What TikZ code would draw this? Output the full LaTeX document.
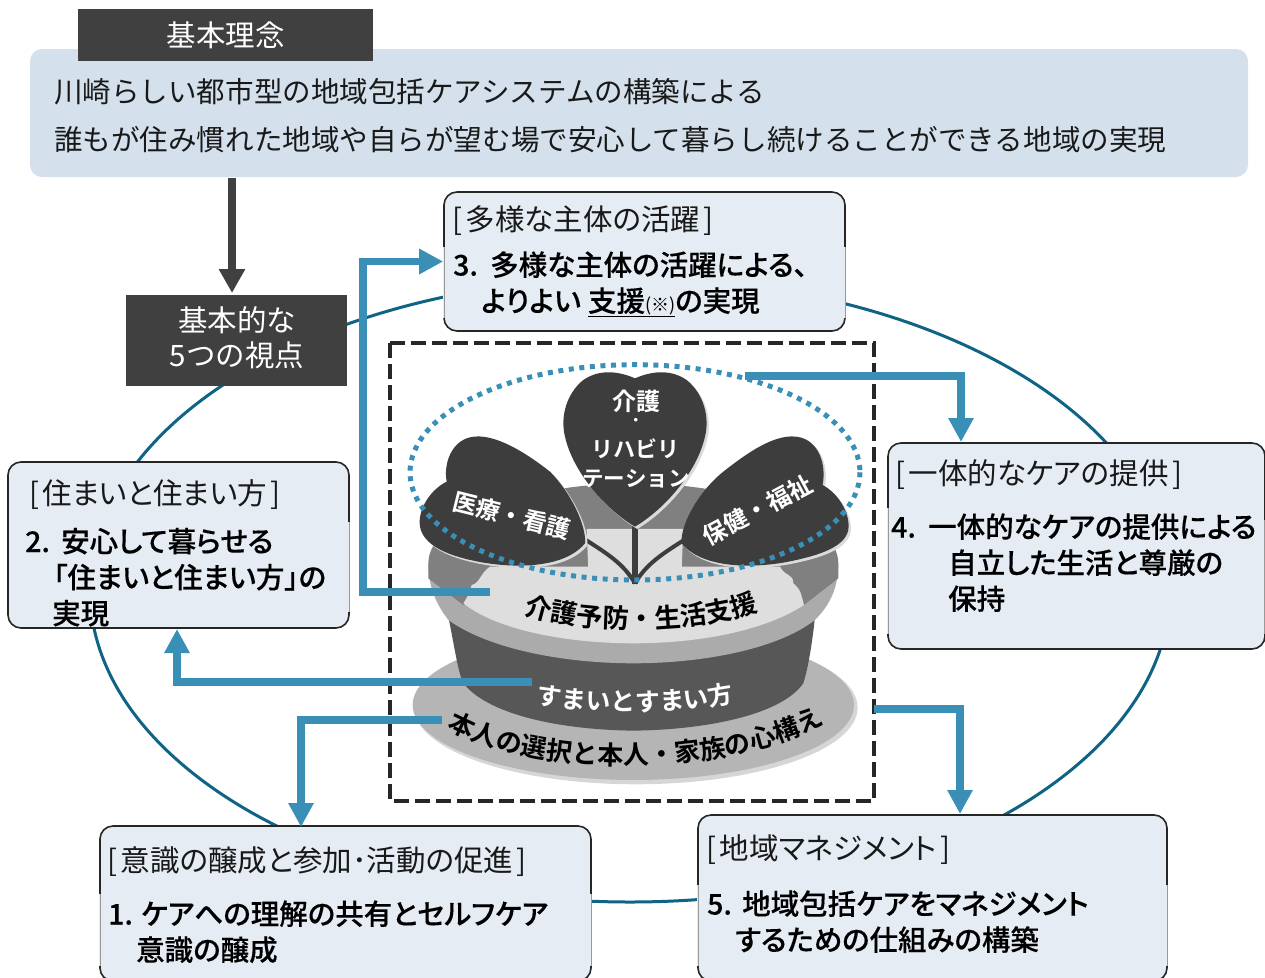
\documentclass[tikz,border=0pt]{standalone}
\usepackage{fontspec}
\setmainfont{Noto Sans CJK JP}[BoldFont={Noto Sans CJK JP Bold}]
\newfontfamily\proplight{Noto Sans CJK JP}[RawFeature=+palt]
\newfontfamily\propbold{Noto Sans CJK JP Medium}[RawFeature=+palt,FakeBold=0.25]
\usetikzlibrary{arrows.meta,decorations.text}
\definecolor{barfill}{HTML}{D4E1EC}
\definecolor{boxfill}{HTML}{E5ECF4}
\definecolor{darkhead}{HTML}{404040}
\definecolor{arrowblue}{HTML}{3A8FB7}
\definecolor{ringteal}{HTML}{0F6384}
\newcommand{\fs}[1]{\fontsize{#1pt}{#1pt}\selectfont}
\newcommand{\lb}{[\kern3.5pt}
\newcommand{\rb}{\kern3.5pt]}
\newcommand{\numw}[2]{\makebox[#1pt][l]{#2}}
\tikzset{
  x=1pt,y=-1pt,
  headbox/.style={fill=darkhead,text=white,inner sep=0,align=center},
  casebox/.style={draw=black!85,line width=1.6pt,fill=boxfill,rounded corners=13pt,inner sep=0},
  thin label/.style={anchor=base west,inner sep=0,text=black!90,font=\fs{29.5}\proplight},
  bold label/.style={anchor=base west,inner sep=0,text=black,font=\fs{28.5}\propbold},
  blue arrow/.style={draw=arrowblue,line width=7.5pt,-{Triangle[width=24pt,length=24pt]}},
  plant label/.style={text=white,font=\fs{22}\bfseries,inner sep=0},
  leaf/.style={fill=black!76},
  leafshade/.style={fill=black!14,shift={(7,7)}},
}
\newcommand{\sizedbox}[5]{\node[#1,minimum width=#4-#2,minimum height=#5-#3] at ({(#2+#4)/2},{(#3+#5)/2})}
\newcommand{\softedge}[3]{\draw[boxfill,line width=2.4pt] (#1,#2) -- (#1,#3); \draw[black!40,line width=.7pt] (#1,#2) -- (#1,#3);}
\def\leafmid{(765,145) .. controls (720,125) and (660,115) .. (610,150) .. controls (560,190) and (540,260) .. (555,320) .. controls (580,430) and (680,540) .. (765,590) .. controls (850,540) and (950,430) .. (975,320) .. controls (990,260) and (970,190) .. (920,150) .. controls (870,115) and (810,125) .. (765,145) -- cycle}
\def\leafleft{(615,640) .. controls (620,590) and (575,490) .. (510,425) .. controls (440,370) and (340,305) .. (270,322) .. controls (215,335) and (190,400) .. (200,455) .. controls (150,480) and (112,540) .. (120,590) .. controls (130,645) and (200,675) .. (280,692) .. controls (370,712) and (545,725) .. (615,640) -- cycle}
\def\leafright{(905,640) .. controls (900,590) and (950,490) .. (1030,425) .. controls (1100,370) and (1190,305) .. (1260,322) .. controls (1315,335) and (1340,400) .. (1328,465) .. controls (1375,490) and (1412,550) .. (1405,600) .. controls (1395,650) and (1320,675) .. (1240,692) .. controls (1150,712) and (975,725) .. (905,640) -- cycle}
\begin{document}
\begin{tikzpicture}
\useasboundingbox (0,0) rectangle (1265,977);
\clip (0,0) rectangle (1265,977);
% ring
\draw[ringteal,line width=3pt] (630,590) ellipse [x radius=540,y radius=312];
% top band
\node[fill=barfill,rounded corners=12pt,minimum width=1218pt,minimum height=128pt,inner sep=0] (band) at (639,113) {};
\node[headbox,minimum width=295pt,minimum height=52pt,font=\fs{29.5}] (head) at (225.5,35) {基本理念};
\node[anchor=base west,inner sep=0,text=black!90,font=\fs{28.55}] (band1) at (54,102.5) {川崎らしい都市型の地域包括ケアシステムの構築による};
\node[anchor=base west,inner sep=0,text=black!90,font=\fs{28.55}] (band2) at (54,150.5) {誰もが住み慣れた地域や自らが望む場で安心して暮らし続けることができる地域の実現};
\node[headbox,minimum width=221pt,minimum height=91pt] (views) at (236.5,340.5) {};
\node[text=white,inner sep=0,font=\fs{29.5}] (views1) at (237,320) {基本的な};
\node[text=white,inner sep=0,font=\fs{29.5}] (views2) at (237,355) {5つの視点};
\coordinate (bandout) at (232,178);
\draw[draw=darkhead,line width=8pt,-{Triangle[width=25pt,length=24pt]}] (bandout) -- (232,293);
% dashed frame
\draw[black!85,line width=4.5pt,dash pattern=on 15pt off 6pt] (390,343) rectangle (874,801);
% plant graphic, in 3x crop coordinates
\begin{scope}[xshift=380pt,yshift=-330pt,x=0.3333pt,y=-0.3333pt]
  \fill[black!16] (768,1133) ellipse [x radius=665,y radius=230];
  \fill[black!29] (760,1125) ellipse [x radius=662,y radius=225];
  \fill[black!66] (205,860) .. controls (225,960) and (235,1030) .. (250,1060) .. controls (330,1160) and (560,1200) .. (760,1202) .. controls (960,1200) and (1200,1160) .. (1270,1060) .. controls (1280,1030) and (1295,960) .. (1305,860) -- cycle;
  \fill[black!33] (145,700) .. controls (145,780) and (175,830) .. (205,870) .. controls (330,960) and (560,1000) .. (760,1000) .. controls (960,1000) and (1190,960) .. (1305,870) .. controls (1345,830) and (1375,780) .. (1375,700) -- cycle;
  \fill[black!50] (145,700) .. controls (145,560) and (450,460) .. (760,460) .. controls (1070,460) and (1375,560) .. (1375,700) -- (1375,745) -- (1272,825) -- (250,825) -- (145,745) -- cycle;
  \fill[black!13] (330,710) -- (1200,710) .. controls (1215,740) and (1240,730) .. (1240,760) .. controls (1265,780) and (1265,800) .. (1272,825) .. controls (1150,905) and (950,940) .. (760,940) .. controls (560,940) and (350,900) .. (250,820) .. controls (270,790) and (270,780) .. (275,765) .. controls (300,760) and (300,730) .. (330,710) -- cycle;
  \fill[black!13] (620,597) -- (910,597) -- (905,720) -- (625,720) -- cycle;
  % stems
  \draw[black!76,line width=4pt] (765,760) .. controls (730,700) and (680,670) .. (610,625);
  \draw[black!76,line width=4pt] (765,760) .. controls (800,700) and (850,670) .. (920,625);
  \draw[black!76,line width=6pt] (765,762) -- (765,570);
  % leaves
  \fill[leafshade] \leafmid;
  \fill[leafshade] \leafleft;
  \fill[leafshade] \leafright;
  \fill[leaf] \leafmid;
  \fill[leaf] \leafleft;
  \fill[leaf] \leafright;
  \node[plant label,font=\fs{24}\bfseries] (kaigo) at (770,215) {介護};
  \node[plant label,font=\fs{14}\bfseries] (kaigodot) at (768,276) {・};
  \node[plant label] (riha) at (768,357) {リハビリ};
  \node[plant label,font=\fs{21.5}\bfseries] (tei) at (768,445) {テーション};
  \node[plant label,rotate=-14,font=\fs{24}\bfseries] (iryo) at (395,557) {医療・看護};
  \node[plant label,rotate=28,font=\fs{24}\bfseries] (hoken) at (1132,540) {保健・福祉};
  \path[decorate,decoration={text along path,text align=center,text={|\fs{26.5}\bfseries|介護予防・生活支援}}] (415,845) .. controls (600,915) and (950,915) .. (1155,835);
  \path[decorate,decoration={text along path,text align=center,text color=white,text={|\fs{25}\bfseries\color{white}|すまいとすまい方}}] (470,1120) .. controls (640,1152) and (880,1152) .. (1060,1117);
  \path[decorate,decoration={text along path,text align=center,text={|\fs{26}\bfseries|本人の選択と本人・家族の心構え}}] (190,1190) .. controls (450,1345) and (1050,1345) .. (1345,1175);
  % dotted ring
  \draw[arrowblue,line width=5pt,dash pattern=on 5pt off 5.6pt] (765,427) ellipse [x radius=675,y radius=323];
\end{scope}
% boxes
\sizedbox{casebox}{444}{192}{845}{331} (b3) {};
\sizedbox{casebox}{888}{443}{1265}{649} (b4) {};
\sizedbox{casebox}{8}{462}{349}{628} (b2) {};
\sizedbox{casebox}{100}{826}{591}{981} (b1) {};
\sizedbox{casebox}{698}{815}{1167}{981} (b5) {};
\softedge{444}{247}{318}
\softedge{845}{247}{318}
\softedge{888}{508}{634}
\softedge{1264}{520}{634}
\softedge{349}{522}{612}
\softedge{100}{894}{966}
\softedge{591}{894}{966}
\softedge{698}{885}{966}
\softedge{1167}{885}{966}
% box text
\node[thin label] (t3a) at (452,230) {\lb 多様な主体の活躍\rb};
\node[bold label] (t3b) at (453,275.5) {\numw{37}{3.}多様な主体の活躍による、};
\node[bold label] (t3c) at (481,311.5) {よりよい\kern7pt\underline{支援{\fs{18}\proplight (※)}}の実現};
\node[thin label] (t2a) at (29,504) {\lb 住まいと住まい方\rb};
\node[bold label] (t2b) at (25,552) {\numw{36}{2.}安心して暮らせる};
\node[bold label] (t2c) at (53,588) {「住まいと住まい方」の};
\node[bold label] (t2d) at (52,624) {実現};
\node[thin label] (t4a) at (895,484) {\lb 一体的なケアの提供\rb};
\node[bold label] (t4b) at (891,537.5) {\numw{37}{4.}一体的なケアの提供による};
\node[bold label] (t4c) at (948,573.5) {自立した生活と尊厳の};
\node[bold label] (t4d) at (948,609.5) {保持};
\node[thin label] (t1a) at (107,871) {\lb 意識の醸成と参加･活動の促進\rb};
\node[bold label] (t1b) at (108,924.5) {\numw{33}{1.}ケアへの理解の共有とセルフケア};
\node[bold label] (t1c) at (136,960.5) {意識の醸成};
\node[thin label] (t5a) at (706,859) {\lb 地域マネジメント\rb};
\node[bold label] (t5b) at (707,914.5) {\numw{35}{5.}地域包括ケアをマネジメント};
\node[bold label] (t5c) at (735,950.5) {するための仕組みの構築};
% arrows
\coordinate (s3) at (490,592);
\coordinate (j3) at (363,592);
\draw[blue arrow] (s3) -- (j3) |- (b3.west);
\coordinate (s4) at (745,376);
\coordinate (e4) at (961,442);
\draw[blue arrow] (s4) -| (e4);
\coordinate (s2) at (532,682);
\coordinate (e2) at (177,629);
\draw[blue arrow] (s2) -| (e2);
\coordinate (s1) at (442,720);
\coordinate (e1) at (301,827);
\draw[blue arrow] (s1) -| (e1);
\coordinate (s5) at (874,709);
\coordinate (e5) at (960,814);
\draw[blue arrow] (s5) -| (e5);
\end{tikzpicture}
\end{document}
